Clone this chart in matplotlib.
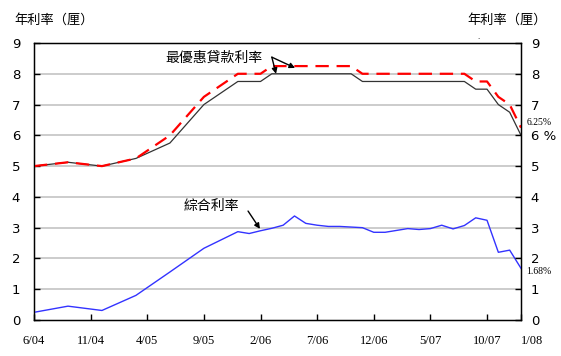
import matplotlib
matplotlib.use("Agg")
import matplotlib.pyplot as plt

# Month index: 0 = 6/04 ... 43 = 1/08
red_x = [0, 3, 6, 9, 12, 15, 18, 20, 21, 28, 29, 38, 39, 40, 41, 42, 43]
red_y = [5.0, 5.125, 5.0, 5.25, 6.0, 7.25, 8.0, 8.0, 8.25, 8.25, 8.0, 8.0, 7.75, 7.75, 7.25, 7.0, 6.25]

black_x = [0, 3, 6, 9, 12, 15, 18, 20, 21, 28, 29, 38, 39, 40, 41, 42, 43]
black_y = [5.0, 5.125, 5.0, 5.25, 5.75, 7.0, 7.75, 7.75, 8.0, 8.0, 7.75, 7.75, 7.5, 7.5, 7.0, 6.75, 6.0]

blue_x = [0, 3, 6, 9, 12, 15, 18, 19, 20, 21, 22, 23, 24, 25, 26, 27, 28, 29, 30,
          31, 32, 33, 34, 35, 36, 37, 38, 39, 40, 41, 42, 43]
blue_y = [0.25, 0.45, 0.31, 0.80, 1.56, 2.33, 2.87, 2.81, 2.90, 2.98, 3.08, 3.38, 3.14,
          3.08, 3.04, 3.04, 3.02, 3.00, 2.85, 2.85, 2.91, 2.97, 2.94, 2.97, 3.08, 2.96,
          3.07, 3.32, 3.24, 2.20, 2.27, 1.68]

xtick_pos = [0, 5, 10, 15, 20, 25, 30, 35, 40, 43]
xtick_labels = ["6/04", "11/04", "4/05", "9/05", "2/06", "7/06", "12/06", "5/07", "10/07", "1/08"]
ytick_pos = list(range(10))
ytick_left = [str(v) for v in ytick_pos]
ytick_right = ["0", "1", "2", "3", "4", "5", "6 %", "7", "8", "9"]

CJK = ["Noto Sans CJK TC", "DejaVu Sans"]
SERIF = ["Liberation Serif", "DejaVu Serif"]

fig = plt.figure(figsize=(5.61, 3.56), dpi=100)
ax = fig.add_axes([0.0606, 0.1011, 0.8681, 0.7781])

ax.set_xlim(0, 43)
ax.set_ylim(0, 9)

for v in range(1, 9):
    ax.axhline(v, color="#c4c4c4", lw=1.2, zorder=0)

ax.plot(black_x, black_y, color="#333333", lw=0.9, zorder=2)
ax.plot(red_x, red_y, color="#ff0000", lw=1.6, dashes=(6, 3.5), zorder=3)
ax.plot(blue_x, blue_y, color="#3333ff", lw=1.0, zorder=3)

for s in ax.spines.values():
    s.set_color("black")
    s.set_linewidth(1.0)

ax.set_xticks(xtick_pos)
ax.set_xticklabels(xtick_labels, family=SERIF, fontsize=9)
ax.set_yticks(ytick_pos)
ax.set_yticklabels(ytick_left, fontsize=9.5)
ax.tick_params(axis="x", direction="in", length=4, pad=11, width=1)
ax.tick_params(axis="y", direction="in", length=4, pad=10, width=1)
lbls = ax.get_xticklabels()
lbls[-1].set_horizontalalignment("left")

ax2 = ax.twinx()
ax2.set_ylim(0, 9)
ax2.set_yticks(ytick_pos)
ax2.set_yticklabels(ytick_right, fontsize=9.5)
ax2.tick_params(axis="y", direction="in", length=4, pad=7, width=1)

# Titles
fig.text(14 / 561, 1 - 20 / 356, "年利率（厘）", family=CJK, fontsize=9.5, ha="left", va="center")
fig.text(547 / 561, 1 - 20 / 356, "年利率（厘）", family=CJK, fontsize=9.5, ha="right", va="center")
fig.text(478 / 561, 1 - 37 / 356, ".", fontsize=5, ha="center", va="center")

# End labels
ax.annotate("6.25%", xy=(43, 6.25), xytext=(4, 0.5), textcoords="offset points",
            family=SERIF, fontsize=7, ha="left", va="bottom", annotation_clip=False)
ax.annotate("1.68%", xy=(43, 1.68), xytext=(4, 1), textcoords="offset points",
            family=SERIF, fontsize=7, ha="left", va="top", annotation_clip=False)

# Annotations
ax.text(15.85, 8.51, "最優惠貸款利率", family=CJK, fontsize=10, ha="center", va="center")
ap = dict(arrowstyle="-|>", color="black", lw=1.0, mutation_scale=8, shrinkA=0, shrinkB=0)
ax.annotate("", xy=(21.37, 8.0), xytext=(21.0, 8.54), arrowprops=ap)
ax.annotate("", xy=(23.05, 8.19), xytext=(21.0, 8.54), arrowprops=ap)

ax.text(15.67, 3.70, "綜合利率", family=CJK, fontsize=10, ha="center", va="center")
ax.annotate("", xy=(19.95, 2.96), xytext=(18.9, 3.54), arrowprops=ap)

fig.savefig("out.png", dpi=100)
